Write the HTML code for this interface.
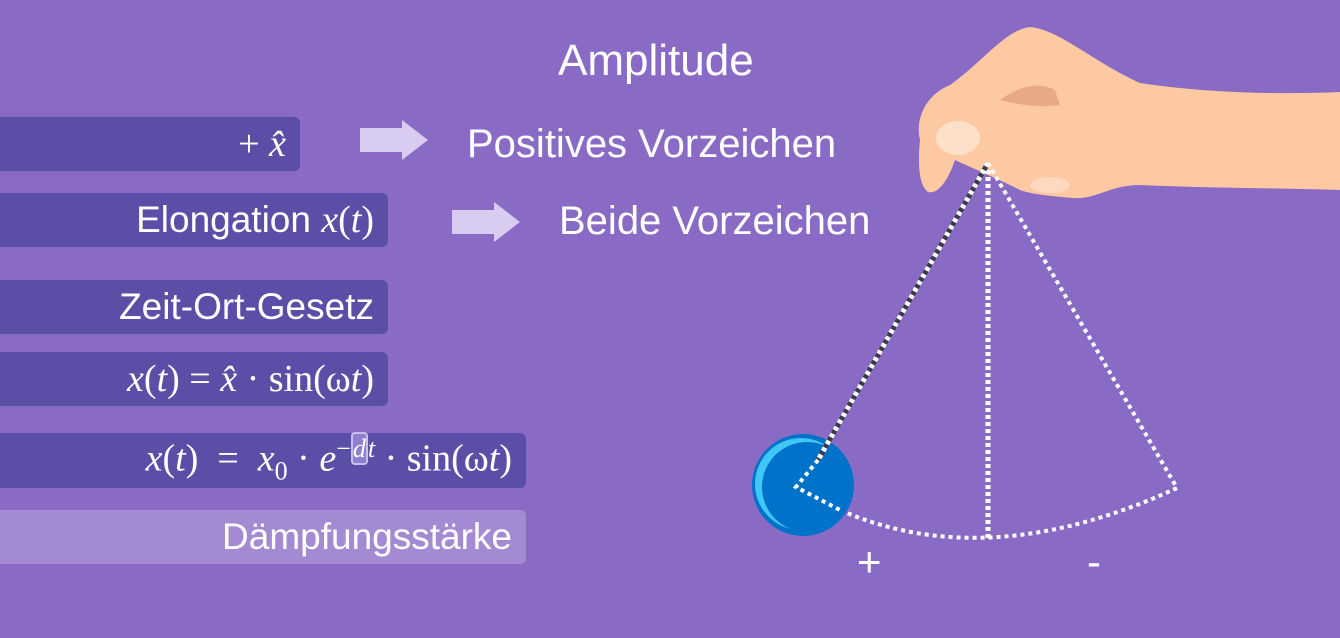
<!DOCTYPE html>
<html><head><meta charset="utf-8"><style>
body{margin:0;width:1340px;height:638px;background:#896bc6;overflow:hidden;position:relative;font-family:"Liberation Sans","DejaVu Sans",sans-serif;color:#fff}
.b{position:absolute;left:0;background:#5a4ea6;border-radius:0 6px 6px 0;box-sizing:border-box;padding-right:14px;text-align:right;font-size:37px;display:flex;align-items:center;justify-content:flex-end;white-space:nowrap}
.m{font-family:"Liberation Serif","DejaVu Serif",serif;font-size:38px}
.t{position:absolute;font-size:40px;white-space:nowrap}
</style></head><body>
<div class="b" style="top:117px;width:300px;height:54px"><span class="m">+ <i>x̂</i></span></div>
<div class="b" style="top:193px;width:388px;height:54px">Elongation&nbsp;<span class="m"><i>x</i>(<i>t</i>)</span></div>
<div class="b" style="top:280px;width:388px;height:54px">Zeit-Ort-Gesetz</div>
<div class="b" style="top:352px;width:388px;height:54px"><span class="m"><i>x</i>(<i>t</i>) = <i>x̂</i> · sin(ω<i>t</i>)</span></div>
<div class="b" style="top:433px;width:526px;height:55px"><span class="m"><i>x</i>(<i>t</i>) &nbsp;= &nbsp;<i>x</i><sub style="font-size:26px">0</sub> · <i>e</i><sup style="font-size:26px">−<span style="border:2px solid #c9bdec;border-radius:4px;background:#8e7fd0"><i>d</i></span><i>t</i></sup> · sin(ω<i>t</i>)</span></div>
<div class="b" style="top:510px;width:526px;height:54px;background:#a48ad2">Dämpfungsstärke</div>
<div class="t" style="left:558px;top:36px;font-size:44px">Amplitude</div>
<div class="t" style="left:467px;top:122px">Positives Vorzeichen</div>
<div class="t" style="left:559px;top:199px">Beide Vorzeichen</div>
<svg width="1340" height="638" style="position:absolute;left:0;top:0">
<polygon points="360,128 402,128 402,120 428,140 402,160 402,152 360,152" fill="#d8ccf0"/>
<polygon points="452,210 494,210 494,202 520,222 494,242 494,234 452,234" fill="#d8ccf0"/>
<path d="M920,140 C915,120 925,95 950,85 C985,60 1005,30 1030,27 C1060,30 1090,60 1140,83 C1200,92 1270,95 1340,92 L1340,190 C1280,188 1200,188 1140,185 C1110,185 1095,200 1073,198 C1050,196 1030,194 1020,190 C990,175 965,165 955,160 C950,175 940,195 928,192 C918,185 918,160 920,140 Z" fill="#fdc9a3"/>
<path d="M1000,100 C1020,85 1040,82 1055,90 L1060,105 C1040,108 1020,105 1000,100Z" fill="#e8a988"/>
<ellipse cx="958" cy="138" rx="22" ry="17" fill="#fde0c8"/>
<ellipse cx="1050" cy="185" rx="20" ry="8" fill="#fde0c8" opacity=".7"/>
<path d="M988,163 L1177,488 Q988,575 840,510" fill="none" stroke="#fff" stroke-width="4" stroke-dasharray="4 4"/>
<line x1="988" y1="163" x2="988" y2="538" stroke="#fff" stroke-width="5" stroke-dasharray="4 3"/>
<circle cx="803" cy="485" r="51" fill="#0172c9"/>
<circle cx="801" cy="484" r="46" fill="#3fc8f6"/>
<circle cx="807" cy="487" r="45" fill="#0172c9"/>
<line x1="988" y1="163" x2="818" y2="460" stroke="#3a3a4a" stroke-width="5"/>
<line x1="988" y1="163" x2="818" y2="460" stroke="#fff" stroke-width="5" stroke-dasharray="4 4"/>
<polyline points="818,460 796,487 840,510" fill="none" stroke="#fff" stroke-width="4" stroke-dasharray="4 4"/>
</svg>
<div class="t" style="left:857px;top:538px;font-size:42px">+</div>
<div class="t" style="left:1087px;top:538px;font-size:42px">-</div>
</body></html>
